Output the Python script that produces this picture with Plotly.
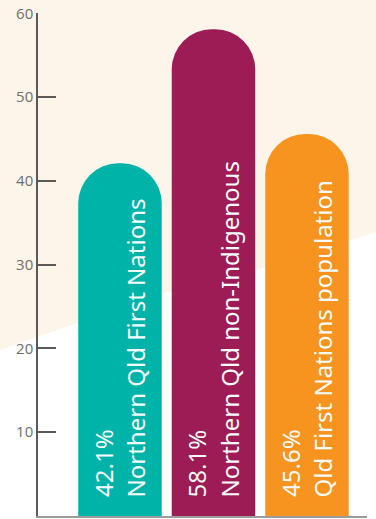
import plotly.graph_objects as go

# Share of each group (%)
categories = ["Northern Qld First Nations", "Northern Qld non-Indigenous", "Qld First Nations population"]
values = [42.1, 58.1, 45.6]
colors = ["#00B3A9", "#9E1C55", "#F7941F"]
tick_values = [0, 10, 20, 30, 40, 50, 60]

W, H = 376, 519
label_font = "Noto Sans"

fig = go.Figure()
fig.add_trace(go.Bar(
    x=categories,
    y=values,
    marker=dict(color=colors, line=dict(width=0), cornerradius=40),
    hoverinfo="skip",
))

# value and category label written up each bar from its base
for cat, val in zip(categories, values):
    fig.add_annotation(
        x=cat, y=0, xref="x", yref="y",
        text=f"{val}%", textangle=-90, showarrow=False,
        xanchor="center", yanchor="bottom", xshift=-17, yshift=17,
        font=dict(family=label_font, size=24, color="#F4FBFA"),
    )
    fig.add_annotation(
        x=cat, y=0, xref="x", yref="y",
        text=cat, textangle=-90, showarrow=False,
        xanchor="center", yanchor="bottom", xshift=16, yshift=17,
        font=dict(family=label_font, size=24, color="#F4FBFA"),
    )

# cream backdrop across the upper part of the page
pts = [(0, 0), (W, 0), (W, 232), (260, 269), (165, 293), (80, 322), (0, 350)]
path = "M " + " L ".join(f"{x / W:.4f},{1 - y / H:.4f}" for x, y in pts) + " Z"
fig.add_shape(type="path", path=path, xref="paper", yref="paper",
              fillcolor="#FEF5EA", line=dict(width=0), layer="below")

fig.update_layout(
    width=W, height=H,
    margin=dict(l=0, r=0, t=0, b=0),
    paper_bgcolor="white",
    plot_bgcolor="rgba(0,0,0,0)",
    showlegend=False,
    bargap=0.107,
    xaxis=dict(
        domain=[38 / W, 367 / W],
        range=[-0.877, 2.642],
        automargin=False,
        showticklabels=False, ticks="",
        showline=True, linecolor="#9B9B9B", linewidth=2,
        showgrid=False, zeroline=False, fixedrange=True,
    ),
    yaxis=dict(
        domain=[(H - 516) / H, (H - 13.3) / H],
        range=[0, 60],
        automargin=False,
        tickvals=tick_values,
        ticks="inside", ticklen=18, tickwidth=1.5, tickcolor="#5A5A5A",
        showline=True, linecolor="#5A5A5A", linewidth=1.5,
        showgrid=False, zeroline=False,
        tickfont=dict(family="Open Sans", size=15, color="#6E6E6E"),
        fixedrange=True,
    ),
)

fig.write_html("out.html")
